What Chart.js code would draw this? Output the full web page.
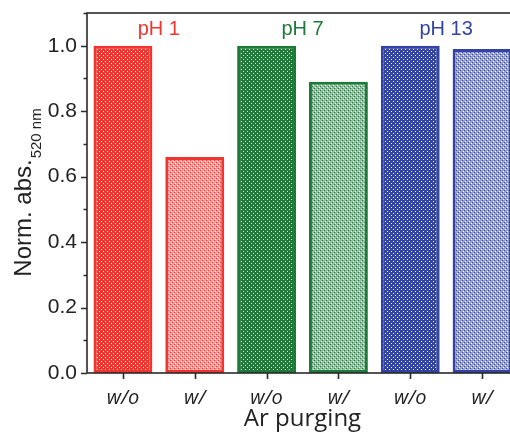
<!DOCTYPE html>
<html>
<head>
<meta charset="utf-8">
<script src="https://cdn.jsdelivr.net/npm/chart.js"></script>
<style>
  html, body { margin: 0; padding: 0; overflow: hidden; background: #fff; }
</style>
</head>
<body>
<canvas id="absChart" width="530" height="434"></canvas>
<script>
const categories = ['w/o', 'w/', 'w/o', 'w/', 'w/o', 'w/'];
const absValues = [1.0, 0.66, 1.0, 0.89, 1.0, 0.99];
const groupLabels = ['pH 1', 'pH 7', 'pH 13'];
const groupColors = ['#f0352e', '#1f7a3a', '#3343a3'];

const el = document.getElementById('absChart');
const c2d = el.getContext('2d');
const sans = "'Liberation Sans', Arial, sans-serif";
const open = "'Open Sans', 'Liberation Sans', sans-serif";

function rgbOf(hex) {
  const n = parseInt(hex.slice(1), 16);
  return [(n >> 16) & 255, (n >> 8) & 255, n & 255];
}

// small cross-hatch tile, dense for "w/o", lighter for "w/"
function hatch(hex, light) {
  const [r, g, b] = rgbOf(hex);
  const t = document.createElement('canvas');
  t.width = 4; t.height = 4;
  const tc = t.getContext('2d');
  const img = tc.createImageData(4, 4);
  for (let y = 0; y < 4; y++) {
    for (let x = 0; x < 4; x++) {
      const i = (y * 4 + x) * 4;
      let k; // 0 = white, 1 = full colour
      const dot = (x === 1 && y === 1) || (x === 3 && y === 3);
      const node = (x === 0 && y === 2) || (x === 2 && y === 0);
      if (light) k = dot ? 0 : node ? 0.95 : 0.5;
      else k = dot ? 0 : 1;
      img.data[i] = Math.round(255 - (255 - r) * k);
      img.data[i + 1] = Math.round(255 - (255 - g) * k);
      img.data[i + 2] = Math.round(255 - (255 - b) * k);
      img.data[i + 3] = 255;
    }
  }
  tc.putImageData(img, 0, 0);
  return c2d.createPattern(t, 'repeat');
}

const fills = categories.map((c, i) => hatch(groupColors[Math.floor(i / 2)], i % 2 === 1));
const edges = categories.map((c, i) => groupColors[Math.floor(i / 2)]);

const frame = {
  id: 'frame',
  afterDraw(chart) {
    const { ctx, chartArea: a, scales } = chart;
    const xs = scales.x, ys = scales.y;
    ctx.save();
    ctx.strokeStyle = '#2a2a2a';
    ctx.lineWidth = 1.6;
    ctx.strokeRect(a.left, a.top, a.right - a.left, a.bottom - a.top);

    // y ticks, major every 0.2, minor between
    ctx.beginPath();
    ys.ticks.forEach(t => {
      const y = Math.round(ys.getPixelForValue(t.value)) + 0.5;
      const major = Math.round(t.value * 10) % 2 === 0;
      ctx.moveTo(a.left - (major ? 6 : 3.5), y);
      ctx.lineTo(a.left, y);
    });
    // x ticks under each bar
    categories.forEach((c, i) => {
      const x = Math.round(xs.getPixelForValue(i)) + 0.5;
      ctx.moveTo(x, a.bottom);
      ctx.lineTo(x, a.bottom + 6);
    });
    ctx.stroke();

    // pH group labels
    ctx.font = '20px ' + sans;
    ctx.textAlign = 'center';
    ctx.textBaseline = 'alphabetic';
    groupLabels.forEach((g, k) => {
      const x = (xs.getPixelForValue(2 * k) + xs.getPixelForValue(2 * k + 1)) / 2;
      ctx.fillStyle = groupColors[k];
      ctx.fillText(g, x, 35);
    });

    // y title with subscript
    const main = 'Norm. abs.', sub = '520 nm';
    ctx.fillStyle = '#222';
    ctx.translate(31, (a.top + a.bottom) / 2);
    ctx.rotate(-Math.PI / 2);
    ctx.textAlign = 'left';
    ctx.font = '24px ' + sans;
    const w1 = ctx.measureText(main).width;
    ctx.font = '15px ' + sans;
    const w2 = ctx.measureText(sub).width;
    const x0 = -(w1 + w2) / 2;
    ctx.font = '24px ' + sans;
    ctx.fillText(main, x0, 0);
    ctx.font = '15px ' + sans;
    ctx.fillText(sub, x0 + w1 + 1, 10);
    ctx.restore();
  }
};

new Chart(el, {
  type: 'bar',
  data: {
    labels: categories,
    datasets: [{
      data: absValues,
      backgroundColor: fills,
      borderColor: edges,
      borderWidth: 3,
      borderSkipped: false,
      barPercentage: 0.82,
      categoryPercentage: 1
    }]
  },
  options: {
    responsive: false,
    animation: false,
    layout: { padding: { left: 0, top: 13, right: 12, bottom: 0 } },
    plugins: { legend: { display: false }, tooltip: { enabled: false } },
    scales: {
      x: {
        grid: { display: false },
        border: { display: false },
        ticks: { color: '#222', padding: 5, maxRotation: 0, font: { family: open, size: 20, style: 'italic' } },
        title: { display: true, text: 'Ar purging', color: '#222', padding: { top: 0, bottom: 0 }, font: { family: open, size: 24 } },
        afterFit(s) { s.height = 61; s.paddingLeft = 0; s.paddingRight = 0; }
      },
      y: {
        min: 0,
        max: 1.1,
        grid: { display: false },
        border: { display: false },
        ticks: {
          stepSize: 0.1,
          padding: 2,
          color: '#222',
          font: { family: sans, size: 21 },
          callback: v => (Math.round(v * 10) % 2 === 0 ? v.toFixed(1) : '')
        },
        afterFit(s) { s.width = 87; s.paddingTop = 0; s.paddingBottom = 0; }
      }
    }
  },
  plugins: [frame]
});
</script>
</body>
</html>
